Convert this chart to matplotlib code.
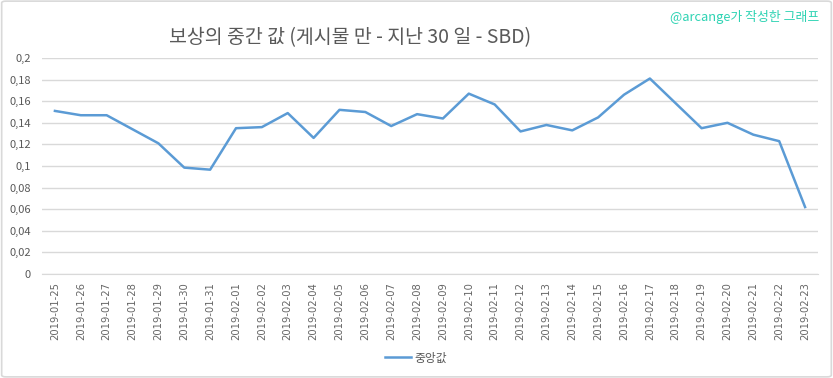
import matplotlib
matplotlib.use("Agg")
import matplotlib.pyplot as plt
from matplotlib.patches import FancyBboxPatch
from matplotlib.ticker import FuncFormatter, MultipleLocator

plt.rcParams['font.family'] = ['Noto Sans CJK KR', 'DejaVu Sans']

dates = ["2019-01-25", "2019-01-26", "2019-01-27", "2019-01-28", "2019-01-29", "2019-01-30",
         "2019-01-31", "2019-02-01", "2019-02-02", "2019-02-03", "2019-02-04", "2019-02-05",
         "2019-02-06", "2019-02-07", "2019-02-08", "2019-02-09", "2019-02-10", "2019-02-11",
         "2019-02-12", "2019-02-13", "2019-02-14", "2019-02-15", "2019-02-16", "2019-02-17",
         "2019-02-18", "2019-02-19", "2019-02-20", "2019-02-21", "2019-02-22", "2019-02-23"]
median_values = [0.151, 0.147, 0.147, 0.134, 0.121, 0.0985, 0.0966, 0.135, 0.136, 0.149,
                 0.126, 0.152, 0.150, 0.137, 0.148, 0.144, 0.167, 0.157, 0.132, 0.138,
                 0.133, 0.145, 0.166, 0.181, 0.158, 0.135, 0.140, 0.129, 0.123, 0.062]
series_label = "중앙값"
title = "보상의 중간 값 (게시물 만 - 지난 30 일 - SBD)"
watermark = "@arcange가 작성한 그래프"

fig = plt.figure(figsize=(8.33, 3.78), dpi=100)
fig.patch.set_facecolor("white")
border = FancyBboxPatch((0.002, 0.003), 0.996, 0.994, boxstyle="round,pad=0,rounding_size=0.005",
                        transform=fig.transFigure, facecolor="none", edgecolor="#d9d9d9", linewidth=1.2)
fig.patches.append(border)

ax = fig.add_axes([42/833, 1-274/378, (818-42)/833, (274-58)/378])
x = list(range(len(dates)))
ax.plot(x, median_values, color="#5B9BD5", linewidth=1.8, label=series_label)

ax.set_xlim(-0.5, len(dates)-0.5)
ax.set_ylim(0, 0.2)
ax.yaxis.set_major_locator(MultipleLocator(0.02))
ax.yaxis.set_major_formatter(FuncFormatter(lambda v, p: ("%g" % round(v, 2)).replace(".", ",")))
ax.grid(axis="y", color="#d9d9d9", linewidth=1)
ax.set_axisbelow(True)
for s in ["top", "right", "left"]:
    ax.spines[s].set_visible(False)
ax.spines["bottom"].set_color("#d9d9d9")
ax.set_xticks(x)
ax.set_xticklabels(dates, rotation=90, fontsize=7.2, color="#666666", family="DejaVu Sans")
ax.tick_params(axis="x", length=0, pad=6)
ax.tick_params(axis="y", length=0, labelsize=8, labelcolor="#595959", pad=8)

fig.text(350/833, 1-38/378, title, ha="center", va="center", fontsize=14, color="#595959")
fig.text(819/833, 1-17/378, watermark, ha="right", va="center", fontsize=9.3, color="#2ed3b3")

leg = fig.legend(handles=ax.get_lines(), labels=[series_label], loc="center",
                 bbox_to_anchor=(416/833, 1-358/378), frameon=False, fontsize=8.5,
                 handlelength=2.2, handletextpad=0.3)
for t in leg.get_texts():
    t.set_color("#595959")

fig.savefig("out.png", dpi=100)
